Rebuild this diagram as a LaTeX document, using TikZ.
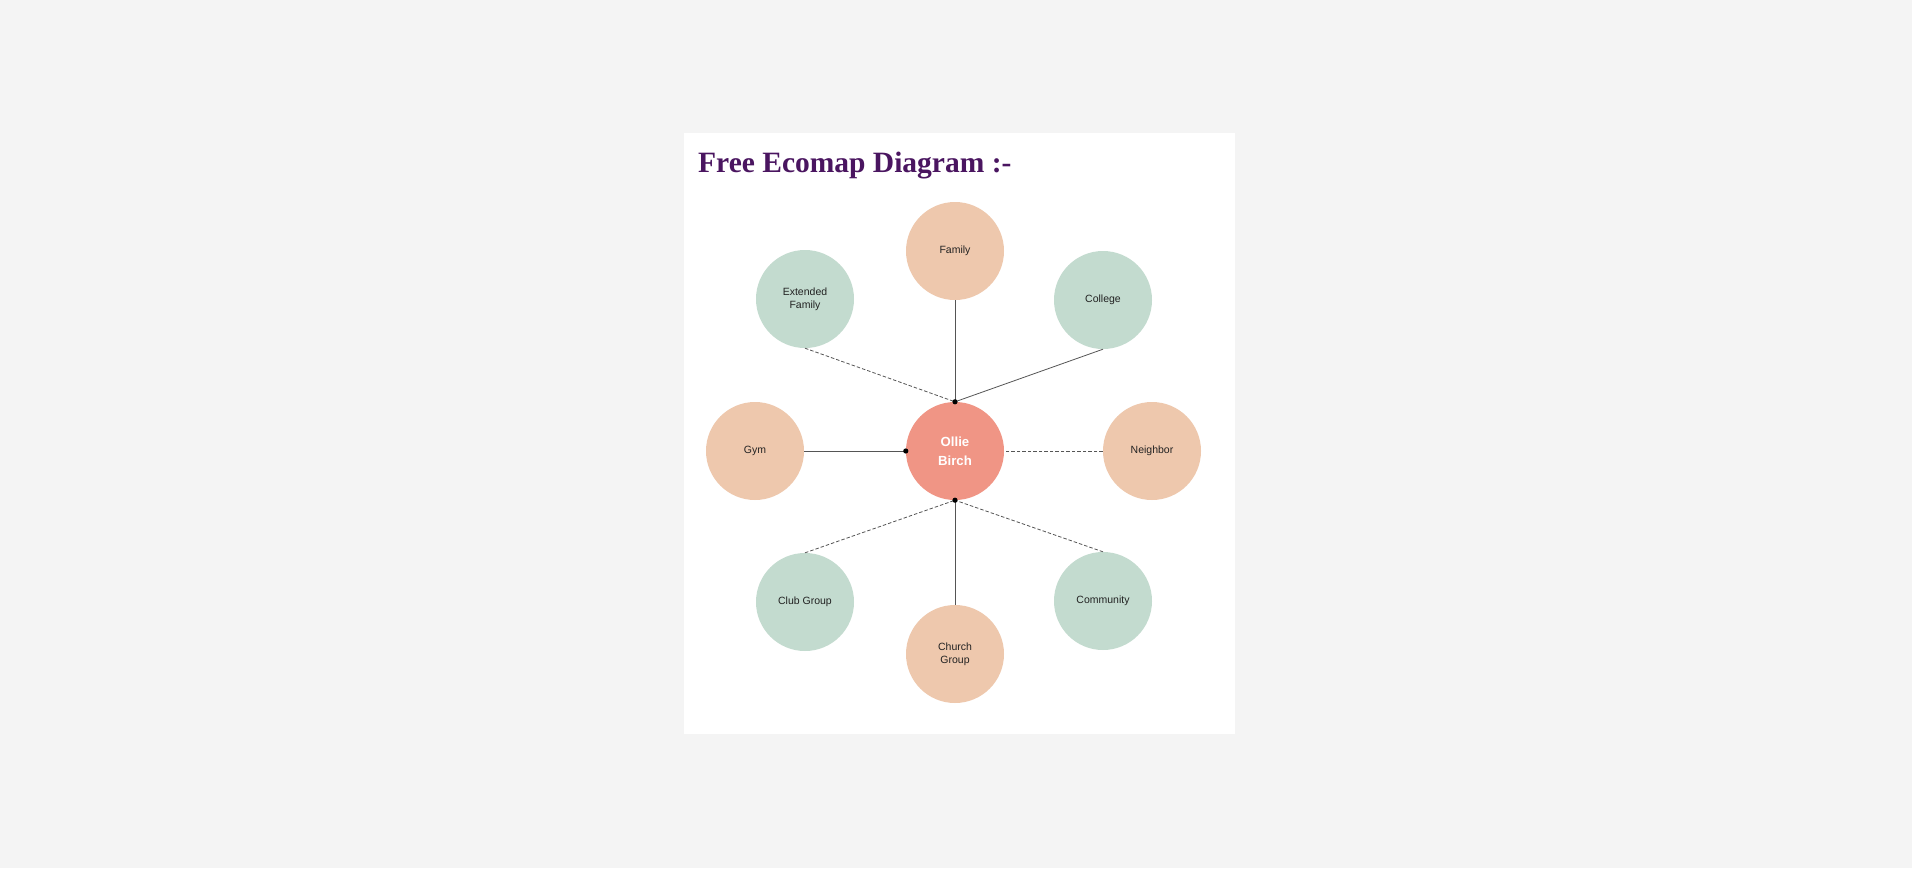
\documentclass[tikz,border=0pt]{standalone}
\usepackage{fontspec}
\setmainfont{Liberation Sans}
\newfontfamily\titlefont{Liberation Serif}
\usetikzlibrary{arrows}

\definecolor{pagebg}{HTML}{F4F4F4}
\definecolor{peach}{HTML}{EEC8AD}
\definecolor{sage}{HTML}{C3DBCF}
\definecolor{salmon}{HTML}{F09585}
\definecolor{plum}{HTML}{4A1560}
\definecolor{ink}{HTML}{222222}
\definecolor{wire}{HTML}{555555}

\begin{document}
\begin{tikzpicture}[x=1pt,y=-1pt,
  every node/.style={circle,minimum size=98pt,inner sep=0pt,align=center,
    font=\fontsize{10.5}{12.7}\selectfont,text=ink},
  warm/.style={fill=peach},
  cool/.style={fill=sage},
  link/.style={draw=wire,line width=0.8pt},
  weak/.style={link,dash pattern=on 3.5pt off 2pt}]
  \fill[pagebg] (0,0) rectangle (1912,868);
  \fill[white] (684,133) rectangle (1235,734);
  \node[rectangle,minimum size=0pt,anchor=base west,text=plum,
    font=\titlefont\bfseries\fontsize{29.5}{31}\selectfont] (ttl) at (698,172)
    {Free Ecomap Diagram :-};

  \node[fill=salmon,text=white,font=\bfseries\fontsize{13.2}{19}\selectfont]
    (ob) at (955,451) {Ollie\\Birch};
  \node[warm] (fam) at (955,251) {Family};
  \node[cool] (ext) at (805,299) {Extended\\Family};
  \node[cool] (col) at (1103,300) {College};
  \node[warm] (gym) at (755,451) {Gym};
  \node[warm] (nb) at (1152,451) {Neighbor};
  \node[cool] (club) at (805,602) {Club Group};
  \node[cool] (comm) at (1103,601) {Community};
  \node[warm] (church) at (955,654) {Church\\Group};

  \path[link]
    (fam.south) edge (ob.north)
    (col.south) edge (ob.north)
    (gym.east) edge (ob.west)
    (church.north) edge (ob.south);
  \path[weak]
    (ext.south) edge (ob.north)
    (nb.west) edge (ob.east)
    (club.north) edge (ob.south)
    (comm.north) edge (ob.south);

  \fill (ob.north) circle (2.6pt)
        (ob.west) circle (2.6pt)
        (ob.south) circle (2.6pt);
\end{tikzpicture}
\end{document}
